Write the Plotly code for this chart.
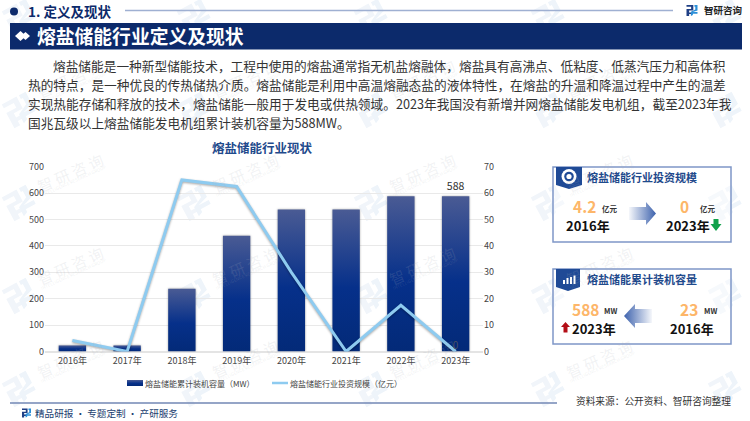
import math
import plotly.graph_objects as go

W, H = 750, 421
FONT = "Noto Sans CJK SC"
NAVY = "#0c2a6b"
TITLE_BLUE = "#1f4a8c"
ORANGE = "#fdb669"

years = ["2016年", "2017年", "2018年", "2019年", "2020年", "2021年", "2022年", "2023年"]
capacity_mw = [23, 23, 238, 438, 538, 538, 588, 588]
invest_yi = [4.2, 0, 65, 62.5, 30, 0, 17.5, 0]
capacity_labels = ["", "", "", "", "", "", "", "588"]
invest_labels = ["", "", "", "", "", "", "", "0"]
left_ticks = [0, 100, 200, 300, 400, 500, 600, 700]
right_ticks = [0, 10, 20, 30, 40, 50, 60, 70]
series_names = ["熔盐储能累计装机容量（MW）", "熔盐储能行业投资规模（亿元）"]

section_title = "1. 定义及现状"
banner_title = "熔盐储能行业定义及现状"
chart_title = "熔盐储能行业现状"
body_lines = [
    "熔盐储能是一种新型储能技术，工程中使用的熔盐通常指无机盐熔融体，熔盐具有高沸点、低粘度、低蒸汽压力和高体积",
    "热的特点，是一种优良的传热储热介质。熔盐储能是利用中高温熔融态盐的液体特性，在熔盐的升温和降温过程中产生的温差",
    "实现热能存储和释放的技术，熔盐储能一般用于发电或供热领域。2023年我国没有新增并网熔盐储能发电机组，截至2023年我",
    "国兆瓦级以上熔盐储能发电机组累计装机容量为588MW。",
]


def px(x):
    return x / W


def py(y):
    return 1 - y / H


shapes = []
annotations = []


def path_d(points):
    return "M" + "L".join(f"{px(x):.5f},{py(y):.5f}" for x, y in points) + "Z"


def add_poly(points, color, layer="above"):
    shapes.append(dict(type="path", xref="paper", yref="paper", path=path_d(points),
                       fillcolor=color, line=dict(width=0), layer=layer))


def add_rect(x0, y0, x1, y1, fill="rgba(0,0,0,0)", line=None, lw=0, layer="above"):
    shapes.append(dict(type="rect", xref="paper", yref="paper", x0=px(x0), x1=px(x1),
                       y0=py(y1), y1=py(y0), fillcolor=fill,
                       line=dict(color=line or "rgba(0,0,0,0)", width=lw), layer=layer))


def add_line(x0, y0, x1, y1, color, lw, layer="above"):
    shapes.append(dict(type="line", xref="paper", yref="paper", x0=px(x0), x1=px(x1),
                       y0=py(y0), y1=py(y1), line=dict(color=color, width=lw), layer=layer))


def add_circle(cx, cy, r, fill, layer="above"):
    shapes.append(dict(type="circle", xref="paper", yref="paper", x0=px(cx - r), x1=px(cx + r),
                       y0=py(cy + r), y1=py(cy - r), fillcolor=fill, line=dict(width=0), layer=layer))


def add_text(x, y, text, size, color="#333333", bold=False, anchor="left", angle=0):
    annotations.append(dict(xref="paper", yref="paper", x=px(x), y=py(y), text=f"<b>{text}</b>" if bold else text,
                            showarrow=False, xanchor=anchor, yanchor="middle", borderpad=0, textangle=angle,
                            font=dict(family=FONT, size=size, color=color)))


LOGO_PARTS = [
    [(0, 0), (0.62, 0), (0.62, 0.5), (0.24, 0.5), (0.24, 0.68), (0.5, 0.68), (0.5, 0.82), (0.24, 0.82),
     (0.24, 1.0), (0, 1.0), (0, 0.36), (0.42, 0.36), (0.42, 0.16), (0, 0.16)],
    [(0.72, 0), (1, 0), (1, 0.5), (0.58, 0.64), (1, 0.64), (1, 0.8), (0.58, 0.8), (0.58, 0.92), (0.4, 1.0),
     (0.4, 0.62), (0.8, 0.42), (0.8, 0.16), (0.72, 0.16)],
]


def add_logo(cx, cy, size, angle, colors, layer="above"):
    a = math.radians(angle)
    for part, color in zip(LOGO_PARTS, colors):
        pts = []
        for u, v in part:
            dx, dy = (u - 0.5) * size, (v - 0.5) * size
            pts.append((cx + dx * math.cos(a) - dy * math.sin(a), cy + dx * math.sin(a) + dy * math.cos(a)))
        add_poly(pts, color, layer)


# watermark grid
for wx in (20, 195, 372, 549, 726):
    for wy in (17, 110, 203, 296, 389):
        add_logo(wx, wy, 27, -28, ("#f1f5fa", "#eef4fa"), "below")
        if wy > 17 and wx < 700:
            add_text(wx + 50, wy - 31, "智 研 咨 询", 15, "rgba(170,175,185,0.17)", False, "center", -24)
            add_text(wx + 53, wy - 22, "INTELLIGENCE RESEARCH GROUP", 4.5, "rgba(170,175,185,0.2)", False, "center", -24)

# header
add_circle(14, 11.5, 4, NAVY)
add_text(27, 11.5, section_title, 13.5, NAVY, True)
add_line(125, 10.5, 673, 10.5, "#9fb0d2", 1.5)
add_logo(692, 10.5, 11, 0, ("#1f3f85", "#2b8fd8"))
add_text(703, 10.5, "智研咨询", 9.5, "#222222", True)

# banner
add_rect(10, 23, 742, 49.5, NAVY)
add_poly([(15, 36), (20.5, 31), (26, 36), (20.5, 41)], "#ffffff")
add_poly([(21, 36), (25.5, 32), (30, 36), (25.5, 40)], "#ffffff")
add_text(36, 35.5, banner_title, 18.8, "#ffffff", True)

# body
for i, line in enumerate(body_lines):
    add_text(52 if i == 0 else 27, 66 + i * 18.8, line, 12.7, "#333333")

# chart title
add_text(262, 147, chart_title, 12.5, TITLE_BLUE, True, "center")

# legend
add_rect(127, 380, 143, 386, "rgb(7,8,9)")
add_text(144, 383, series_names[0], 8, "#444444")
add_line(272, 383, 288, 383, "#8ecbf0", 2.5)
add_text(289, 383, series_names[1], 8, "#444444")

# investment panel
add_rect(553, 167, 731, 242, "rgba(255,255,255,0.4)", "#7f97c7", 1.5)
add_poly([(556, 167), (582, 167), (582, 185), (569, 189), (556, 185)], "#1f4a96")
add_circle(569, 176.5, 7.5, "#ffffff")
add_circle(569, 176.5, 4.8, "#1f4a96")
add_circle(569, 176.5, 2.6, "#ffffff")
add_text(586, 177, "熔盐储能行业投资规模", 11, TITLE_BLUE, True)
add_text(584, 206, "4.2", 15.5, ORANGE, True, "center")
add_text(601, 208, "亿元", 7.5, "#333333", True)
add_text(684, 206, "0", 15.5, ORANGE, True, "center")
add_text(699, 208, "亿元", 7.5, "#333333", True)
add_text(587.5, 225, "2016年", 13, "#111111", True, "center")
add_text(687.5, 225, "2023年", 13, "#111111", True, "center")
add_poly([(629, 207), (646, 207), (646, 202), (656, 213.5), (646, 225), (646, 220), (629, 220)], "rgb(1,2,3)")
add_poly([(713.5, 219), (718.5, 219), (718.5, 224), (721.5, 224), (716, 231), (710.5, 224), (713.5, 224)], "#12a14b")

# capacity panel
add_rect(553, 269, 731, 344, "rgba(255,255,255,0.4)", "#7f97c7", 1.5)
add_poly([(556, 269), (580, 269), (580, 287), (568, 291), (556, 287)], "#1f4a96")
for bx, bh in zip((563, 566.5, 570, 573.5), (4, 6, 7, 8.5)):
    add_rect(bx, 284 - bh, bx + 2, 284, "#ffffff")
add_text(586, 279, "熔盐储能累计装机容量", 11, TITLE_BLUE, True)
add_text(585, 309, "588", 15.5, ORANGE, True, "center")
add_text(603, 310, "MW", 7.5, "#333333", True)
add_text(689, 309, "23", 15.5, ORANGE, True, "center")
add_text(703, 310, "MW", 7.5, "#333333", True)
add_text(593.5, 328, "2023年", 13, "#111111", True, "center")
add_text(691.5, 328, "2016年", 13, "#111111", True, "center")
add_poly([(652, 309), (635, 309), (635, 304), (624, 316), (635, 328), (635, 323), (652, 323)], "rgb(4,5,6)")
add_poly([(561, 327), (565.5, 322), (570, 327), (567.5, 327), (567.5, 332.5), (563.5, 332.5), (563.5, 327)], "#b30d16")

# footer
add_line(10, 403, 557, 403, "#7287b4", 1.3)
add_logo(26.5, 413, 9, 0, ("#1f3f85", "#2b8fd8"))
add_text(34, 413, "精品研报 · 专题定制 · 产研服务", 9.6, "#22406f")
add_text(575, 401, "资料来源：公开资料、智研咨询整理", 9.7, "#333333")

fig = go.Figure()
fig.add_trace(go.Bar(
    x=years, y=capacity_mw, name=series_names[0], yaxis="y",
    marker=dict(color="#052c80", line=dict(width=0)),
    text=capacity_labels, textposition="outside", cliponaxis=False,
    textfont=dict(family=FONT, size=10.5, color="#333333"),
))
fig.add_trace(go.Scatter(
    x=years, y=invest_yi, name=series_names[1], yaxis="y2", mode="lines+text",
    line=dict(color="#8ecbf0", width=3),
    text=invest_labels, textposition="top center", cliponaxis=False,
    textfont=dict(family=FONT, size=10, color="#4a4f63"),
))

tickfont = dict(family=FONT, size=9, color="#444444")
fig.update_layout(
    width=W, height=H, margin=dict(l=0, r=0, t=0, b=0), autosize=False,
    paper_bgcolor="#ffffff", plot_bgcolor="rgba(0,0,0,0)",
    bargap=0.5, showlegend=False,
    font=dict(family=FONT),
    xaxis=dict(domain=[px(45), px(483)], showgrid=False, showline=False, ticks="", tickfont=tickfont,
               ticklabelstandoff=2, anchor="y", fixedrange=True, automargin=False),
    yaxis=dict(domain=[py(351.5), py(166.7)], range=[0, 700], tickvals=left_ticks, showline=False,
               gridcolor="#e9e9e9", gridwidth=1.3, zeroline=True, zerolinecolor="#e4e4e4", tickfont=tickfont,
               anchor="x", ticks="", fixedrange=True, automargin=False),
    yaxis2=dict(domain=[py(351.5), py(166.7)], range=[0, 70], tickvals=right_ticks, overlaying="y", side="right",
                showgrid=False, showline=False, zeroline=False, tickfont=tickfont, anchor="x", ticks="",
                fixedrange=True, automargin=False),
    shapes=shapes, annotations=annotations,
)

post_script = r"""
document.documentElement.style.overflow='hidden';
document.body.style.margin='0';
document.body.style.overflow='hidden';
var NS='http://www.w3.org/2000/svg';
var svg=document.querySelector('.main-svg');
var defs=svg.querySelector('defs')||svg.appendChild(document.createElementNS(NS,'defs'));
function grad(id,x2,y2,stops){
  var g=document.createElementNS(NS,'linearGradient');
  g.setAttribute('id',id);g.setAttribute('x1','0');g.setAttribute('y1','0');
  g.setAttribute('x2',x2);g.setAttribute('y2',y2);
  stops.forEach(function(s){var e=document.createElementNS(NS,'stop');
    e.setAttribute('offset',s[0]);e.setAttribute('stop-color',s[1]);
    e.setAttribute('stop-opacity',s[2]);g.appendChild(e);});
  defs.appendChild(g);
}
grad('barGrad','0','1',[[0,'#4a5b94',1],[0.55,'#06308a',1],[1,'#032a78',1]]);
grad('arrowR','1','0',[[0,'#3d62ad',0.05],[1,'#3d62ad',1]]);
grad('arrowL','1','0',[[0,'#3d62ad',1],[1,'#3d62ad',0.05]]);
function paint(){
  document.querySelectorAll('.bars .point path').forEach(function(p){
    p.style.fill='url(#barGrad)';
    p.style.filter='drop-shadow(0.5px 0.5px 1px rgba(0,0,0,0.35))';});
  document.querySelectorAll('.scatterlayer .js-line').forEach(function(p){
    p.style.filter='drop-shadow(0.5px 1px 1px rgba(0,0,0,0.35))';});
  document.querySelectorAll('.shapelayer path').forEach(function(p){
    var f=p.style.fill.replace(/\s/g,'');
    if(f==='rgb(1,2,3)')p.style.fill='url(#arrowR)';
    if(f==='rgb(4,5,6)')p.style.fill='url(#arrowL)';
    if(f==='rgb(7,8,9)')p.style.fill='url(#barGrad)';});
}
paint();
"""

fig.write_html("out.html", post_script=post_script, config={"displayModeBar": False})
